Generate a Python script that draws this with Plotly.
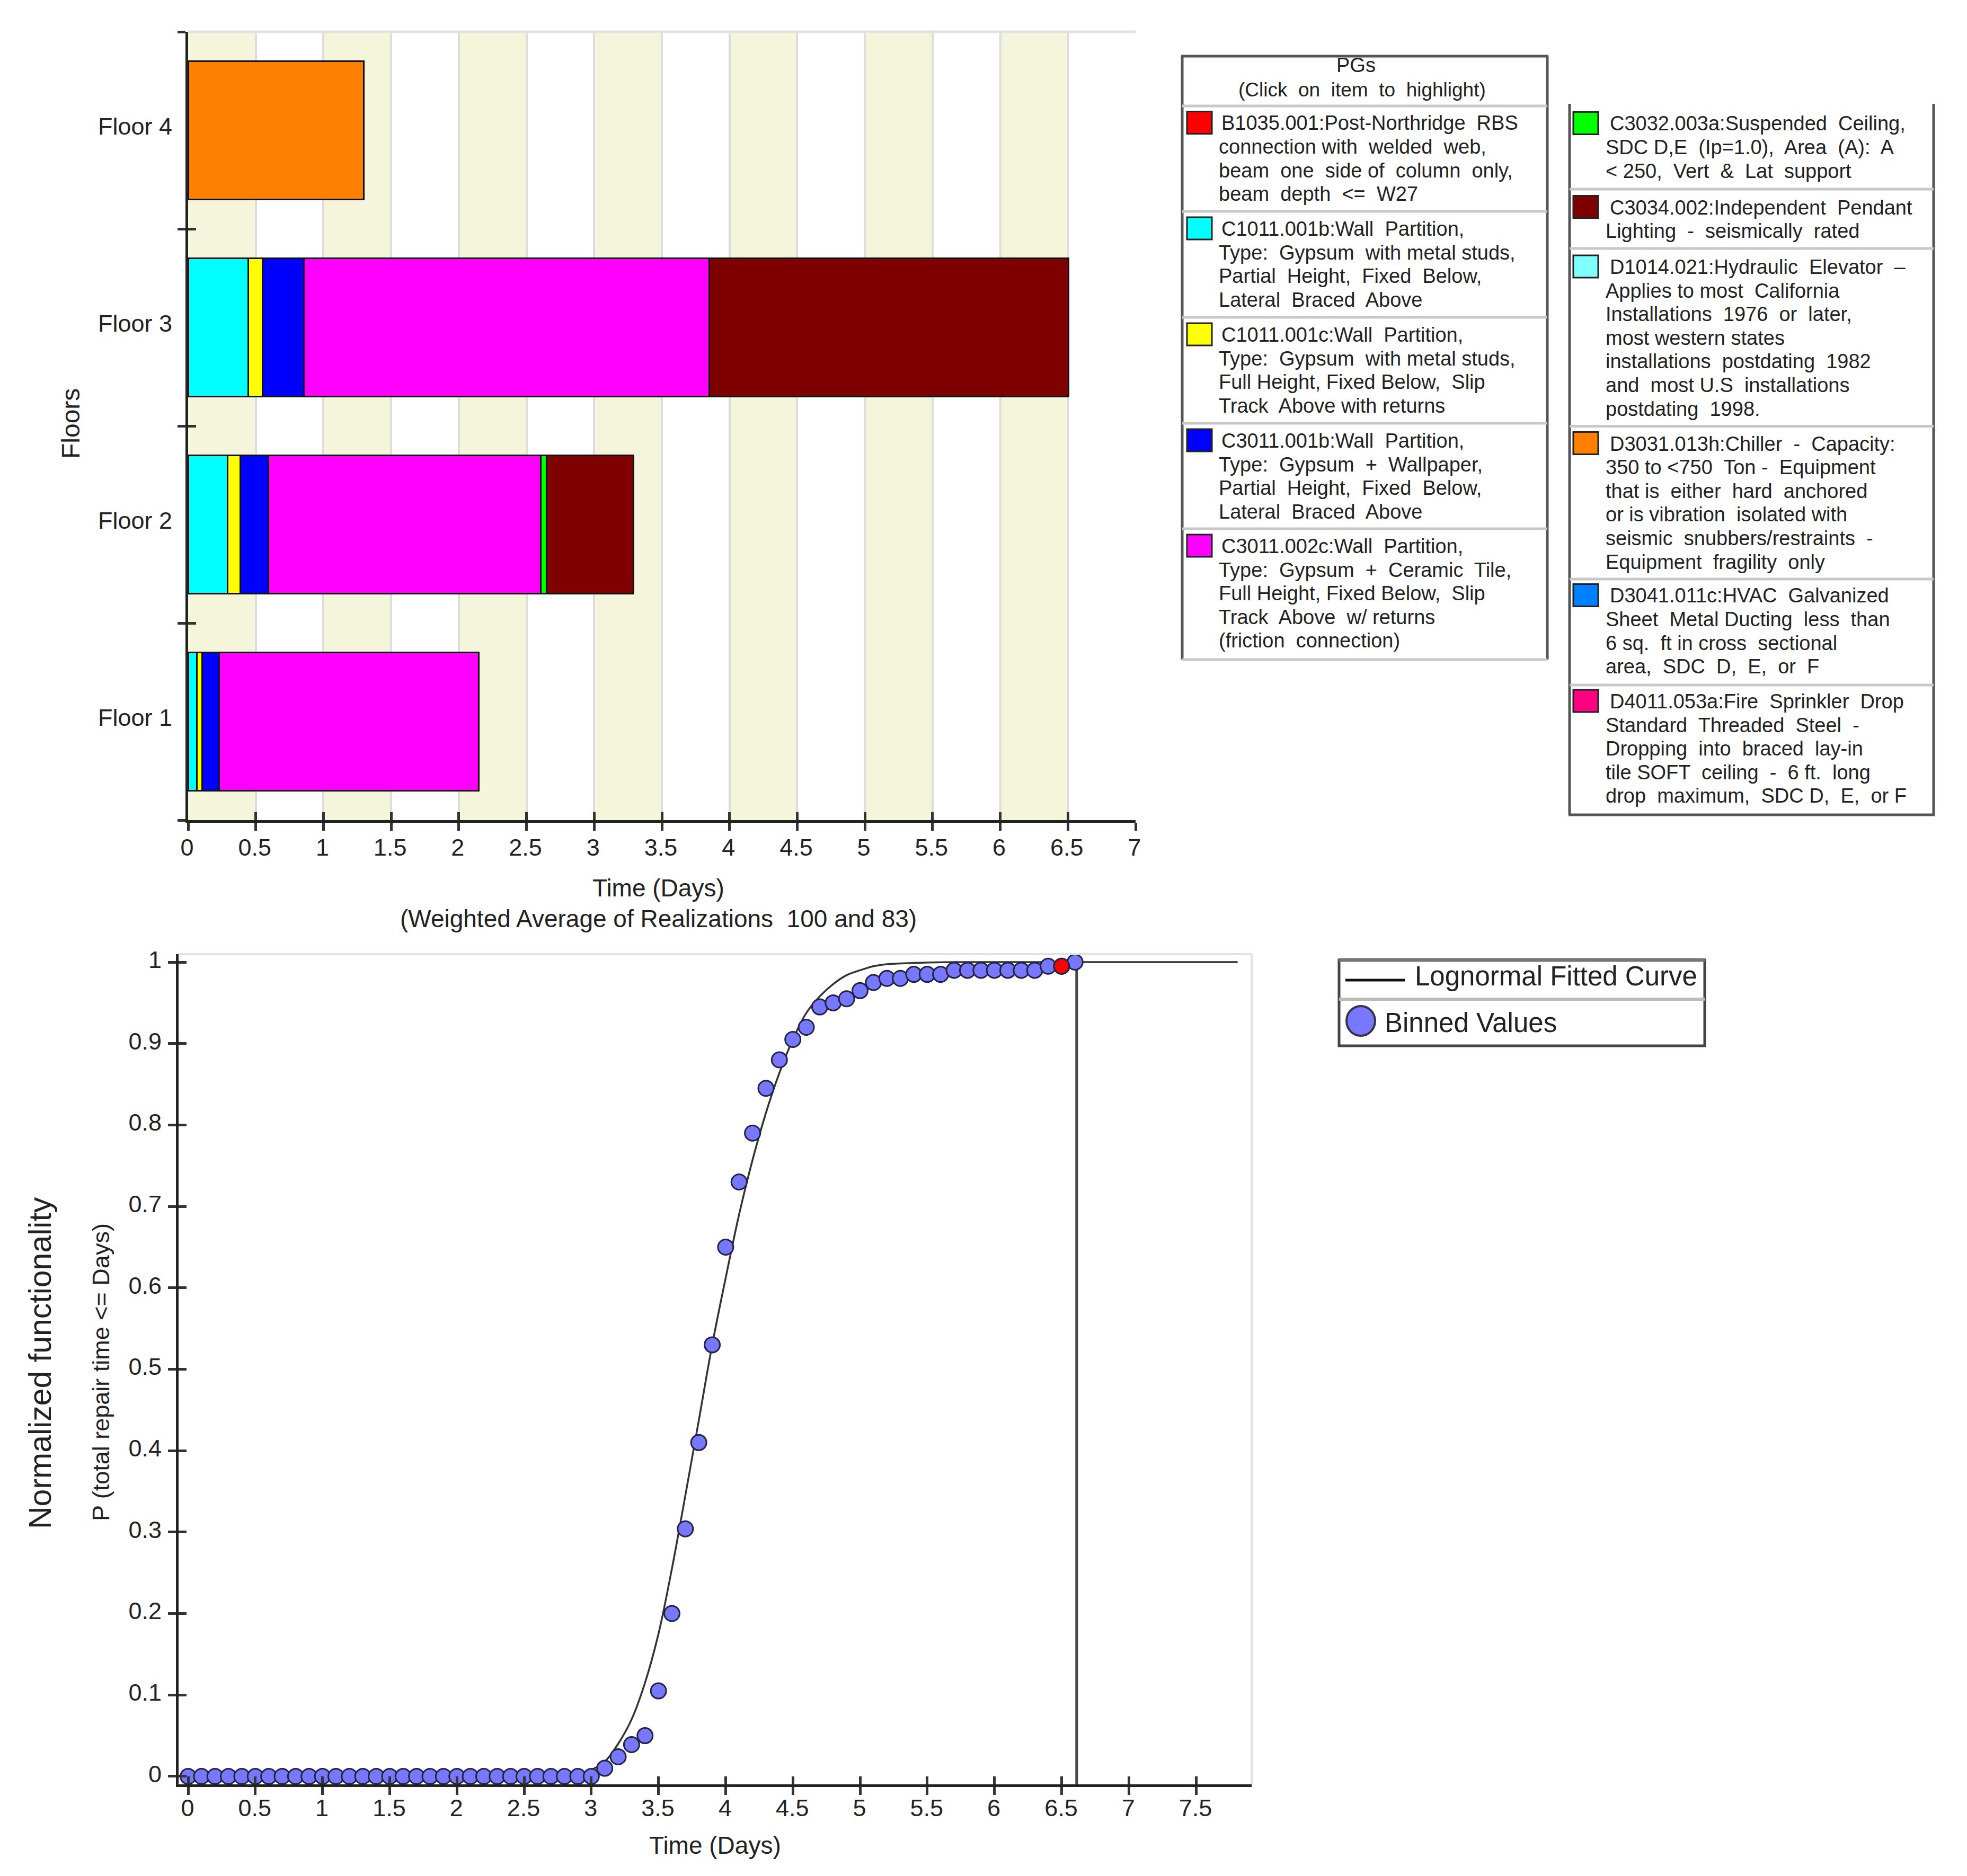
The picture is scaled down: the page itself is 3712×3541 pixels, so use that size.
import plotly.graph_objects as go

W = 3712
H = 3541

# top chart data (days per performance group)
floors = ["Floor 1", "Floor 2", "Floor 3", "Floor 4"]
stack_names = ["C1011.001b", "C1011.001c", "C3011.001b", "C3011.002c", "C3032.003a", "C3034.002", "D3031.013h"]
stack_colors = ["#00FFFF", "#FFFF00", "#0000FF", "#FF00FF", "#00FF00", "#7F0000", "#FF8000"]
c1011b = [0.066, 0.29, 0.445, None]
c1011c = [0.038, 0.095, 0.105, None]
c3011b = [0.126, 0.208, 0.307, None]
c3011c = [1.918, 2.011, 2.993, None]
c3032 = [None, 0.044, None, None]
c3034 = [None, 0.642, 2.655, None]
d3031 = [None, None, None, 1.297]
stack_values = [c1011b, c1011c, c3011b, c3011c, c3032, c3034, d3031]
top_ticks = [0, 0.5, 1, 1.5, 2, 2.5, 3, 3.5, 4, 4.5, 5, 5.5, 6, 6.5, 7]
stripe_starts = [0, 1, 2, 3, 4, 5, 6]

# bottom chart data
bin_times = [0, 0.1, 0.2, 0.3, 0.4, 0.5, 0.6, 0.7, 0.8, 0.9, 1, 1.1, 1.2, 1.3, 1.4, 1.5, 1.6, 1.7, 1.8, 1.9, 2,
             2.1, 2.2, 2.3, 2.4, 2.5, 2.6, 2.7, 2.8, 2.9, 3, 3.1, 3.2, 3.3, 3.4, 3.5, 3.6, 3.7, 3.8, 3.9, 4,
             4.1, 4.2, 4.3, 4.4, 4.5, 4.6, 4.7, 4.8, 4.9, 5, 5.1, 5.2, 5.3, 5.4, 5.5, 5.6, 5.7, 5.8, 5.9, 6,
             6.1, 6.2, 6.3, 6.4, 6.5, 6.6]
bin_values = [0, 0, 0, 0, 0, 0, 0, 0, 0, 0, 0, 0, 0, 0, 0, 0, 0, 0, 0, 0, 0,
              0, 0, 0, 0, 0, 0, 0, 0, 0, 0, 0.01, 0.024, 0.039, 0.05, 0.105, 0.2, 0.304, 0.41, 0.53, 0.65,
              0.73, 0.79, 0.845, 0.88, 0.905, 0.92, 0.945, 0.95, 0.955, 0.965, 0.975, 0.98, 0.98, 0.985, 0.985,
              0.985, 0.99, 0.99, 0.99, 0.99, 0.99, 0.99, 0.99, 0.995, 0.995, 1]
highlight_time = [6.5]
highlight_value = [0.995]
curve_x = [2.8, 2.9, 3, 3.1, 3.2, 3.3, 3.4, 3.5, 3.6, 3.7, 3.8, 3.9, 4, 4.1, 4.2, 4.3, 4.4, 4.5, 4.6, 4.7, 4.8,
           4.9, 5, 5.1, 5.2, 5.4, 5.7, 6, 7, 7.81]
curve_y = [0, 0.002, 0.008, 0.018, 0.04, 0.07, 0.115, 0.175, 0.255, 0.345, 0.437, 0.53, 0.612, 0.69, 0.757,
           0.815, 0.864, 0.905, 0.9375, 0.958, 0.973, 0.984, 0.99, 0.995, 0.9975, 0.999, 1, 1, 1, 1]
vline_x = [6.612, 6.612]
vline_y = [-0.0098, 1]
bottom_xticks = [0, 0.5, 1, 1.5, 2, 2.5, 3, 3.5, 4, 4.5, 5, 5.5, 6, 6.5, 7, 7.5]
bottom_yticks = [0, 0.1, 0.2, 0.3, 0.4, 0.5, 0.6, 0.7, 0.8, 0.9, 1]

# legend texts
left_colors = ["#FF0000", "#00FFFF", "#FFFF00", "#0000FF", "#FF00FF"]
left_items = [
    ["B1035.001:Post-Northridge  RBS", "connection with  welded  web,", "beam  one  side of  column  only,", "beam  depth  <=  W27"],
    ["C1011.001b:Wall  Partition,", "Type:  Gypsum  with metal studs,", "Partial  Height,  Fixed  Below,", "Lateral  Braced  Above"],
    ["C1011.001c:Wall  Partition,", "Type:  Gypsum  with metal studs,", "Full Height, Fixed Below,  Slip", "Track  Above with returns"],
    ["C3011.001b:Wall  Partition,", "Type:  Gypsum  +  Wallpaper,", "Partial  Height,  Fixed  Below,", "Lateral  Braced  Above"],
    ["C3011.002c:Wall  Partition,", "Type:  Gypsum  +  Ceramic  Tile,", "Full Height, Fixed Below,  Slip", "Track  Above  w/ returns", "(friction  connection)"],
]
right_colors = ["#00FF00", "#7F0000", "#7FFFFF", "#FF8000", "#0080FF", "#FF0080"]
right_items = [
    ["C3032.003a:Suspended  Ceiling,", "SDC D,E  (Ip=1.0),  Area  (A):  A", "< 250,  Vert  &  Lat  support"],
    ["C3034.002:Independent  Pendant", "Lighting  -  seismically  rated"],
    ["D1014.021:Hydraulic  Elevator  \u2013", "Applies to most  California", "Installations  1976  or  later,", "most western states", "installations  postdating  1982", "and  most U.S  installations", "postdating  1998."],
    ["D3031.013h:Chiller  -  Capacity:", "350 to <750  Ton -  Equipment", "that is  either  hard  anchored", "or is vibration  isolated with", "seismic  snubbers/restraints  -", "Equipment  fragility  only"],
    ["D3041.011c:HVAC  Galvanized", "Sheet  Metal Ducting  less  than", "6 sq.  ft in cross  sectional", "area,  SDC  D,  E,  or  F"],
    ["D4011.053a:Fire  Sprinkler  Drop", "Standard  Threaded  Steel  -", "Dropping  into  braced  lay-in", "tile SOFT  ceiling  -  6 ft.  long", "drop  maximum,  SDC D,  E,  or F"],
]
left_rows = [232.5, 432, 632, 832, 1031]
left_dividers = [200, 399, 599, 799, 998, 1245]
right_rows = [233.5, 391.5, 504, 837.5, 1124.4, 1324]
right_dividers = [357, 469, 804.5, 1093, 1293]

FONT = "Liberation Sans"
TEXT = "#222222"


def fx(x):
    return x / W


def fy(y):
    return 1 - y / H


fig = go.Figure()

# stacked bars
for name, color, values in zip(stack_names, stack_colors, stack_values):
    fig.add_trace(go.Bar(y=floors, x=values, name=name, orientation="h", width=0.7,
                         marker=dict(color=color, line=dict(color="#111111", width=3)),
                         xaxis="x", yaxis="y"))

# fitted curve, binned points
fig.add_trace(go.Scatter(x=curve_x, y=curve_y, mode="lines", line=dict(color="#333333", width=3.5, shape="spline"),
                         xaxis="x2", yaxis="y2"))
fig.add_trace(go.Scatter(x=vline_x, y=vline_y, mode="lines", line=dict(color="#444444", width=5),
                         xaxis="x2", yaxis="y2"))
fig.add_trace(go.Scatter(x=bin_times, y=bin_values, mode="markers",
                         marker=dict(size=29, color="#7878FF", line=dict(color="#222244", width=3)),
                         xaxis="x2", yaxis="y2"))
fig.add_trace(go.Scatter(x=highlight_time, y=highlight_value, mode="markers",
                         marker=dict(size=29, color="#FF0000", line=dict(color="#222244", width=3)),
                         xaxis="x2", yaxis="y2"))

# empty traces so the overlay axes with the inner tick halves get drawn
fig.add_trace(go.Scatter(x=[None], y=[None], mode="lines", xaxis="x3", yaxis="y3"))
fig.add_trace(go.Scatter(x=[None], y=[None], mode="lines", xaxis="x4", yaxis="y4"))

tick_font = dict(family=FONT, size=45, color=TEXT)
shapes = []
annotations = []


def rect(x0, y0, x1, y1, **kw):
    shapes.append(dict(type="rect", xref="paper", yref="paper", x0=fx(x0), x1=fx(x1), y0=fy(y0), y1=fy(y1), **kw))


def hline(x0, x1, y, color, width):
    shapes.append(dict(type="line", xref="paper", yref="paper", x0=fx(x0), x1=fx(x1), y0=fy(y), y1=fy(y),
                       line=dict(color=color, width=width)))


def vline(x, y0, y1, color, width):
    shapes.append(dict(type="line", xref="paper", yref="paper", x0=fx(x), x1=fx(x), y0=fy(y0), y1=fy(y1),
                       line=dict(color=color, width=width)))


def label(x, y, text, size, xanchor="left", angle=0):
    annotations.append(dict(xref="paper", yref="paper", x=fx(x), y=fy(y), text=text, showarrow=False,
                            xanchor=xanchor, yanchor="middle", textangle=angle, borderpad=0,
                            font=dict(family=FONT, size=size, color=TEXT)))


# beige bands behind the top chart
for start in stripe_starts:
    shapes.append(dict(type="rect", xref="x", yref="paper", x0=start, x1=start + 0.5, y0=fy(1548), y1=fy(60),
                       fillcolor="#F5F5DC", line_width=0, layer="below"))
hline(355, 2143, 60, "#E2E2E2", 5)

# plot frame of the bottom chart
hline(337, 2362, 1801, "#E2E2E2", 4)
vline(2362, 1801, 3368, "#E2E2E2", 4)

# axis titles
label(1242, 1676, "Time (Days)", 46, "center")
label(1242, 1734, "(Weighted Average of Realizations  100 and 83)", 46, "center")
label(133, 800, "Floors", 48, "center", -90)
label(1349, 3483, "Time (Days)", 46, "center")
label(190, 2590, "P (total repair time <= Days)", 45, "center", -90)
label(76, 2573, "Normalized functionality", 59, "center", -90)

# PG legend, left panel
LINE = 44.6
SW = 38
label(2559, 123, "PGs", SW, "center")
label(2570, 169.5, "(Click  on  item  to  highlight)", 37, "center")
vline(2231, 106, 1245, "#555555", 5)
vline(2920, 106, 1245, "#555555", 5)
hline(2229, 2922, 106, "#555555", 5)
for y in left_dividers:
    hline(2231, 2920, y, "#C8C8C8", 5)
for color, item, row in zip(left_colors, left_items, left_rows):
    rect(2240, row - 22, 2287, row + 20, fillcolor=color, line=dict(color="#222222", width=3))
    for i, text in enumerate(item):
        label(2304 if i == 0 else 2299, row + i * LINE, text, SW)

# PG legend, right panel
vline(2962, 196, 1538, "#555555", 5)
vline(3649, 196, 1538, "#555555", 5)
hline(2960, 3651, 1538, "#555555", 5)
for y in right_dividers:
    hline(2962, 3649, y, "#C8C8C8", 5)
for color, item, row in zip(right_colors, right_items, right_rows):
    rect(2969, row - 22, 3016, row + 20, fillcolor=color, line=dict(color="#222222", width=3))
    for i, text in enumerate(item):
        label(3037 if i == 0 else 3029, row + i * LINE, text, SW)

# curve legend
rect(2527, 1812, 3217, 1974, line=dict(color="#444444", width=5))
hline(2527, 3217, 1812, "#777777", 7)
hline(2527, 3217, 1886, "#BBBBBB", 6)
hline(2539, 2651, 1850, "#111111", 5)
shapes.append(dict(type="circle", xref="paper", yref="paper", x0=fx(2541), x1=fx(2595), y0=fy(1899), y1=fy(1955),
                   fillcolor="#7878FF", line=dict(color="#333344", width=4)))
label(2669, 1842, "Lognormal Fitted Curve", 51)
label(2612, 1930, "Binned Values", 51)

axis_line = dict(showline=True, linecolor="#222222", linewidth=5, zeroline=False, ticks="outside", ticklen=15,
                 tickwidth=5, tickcolor="#333333", tickfont=tick_font, automargin=False)
inner = dict(showline=False, showgrid=False, zeroline=False, ticks="inside", ticklen=15, tickwidth=5,
             tickcolor="#333333", showticklabels=False, automargin=False)

fig.update_layout(
    width=W, height=H, autosize=False, margin=dict(l=0, r=0, t=0, b=0),
    paper_bgcolor="white", plot_bgcolor="white", showlegend=False, barmode="stack",
    font=dict(family=FONT, color=TEXT),
    shapes=shapes, annotations=annotations,
    xaxis=dict(domain=[fx(355), fx(2143)], range=[0, 7], anchor="y", tickvals=top_ticks, showgrid=True,
               gridcolor="#DDDDDD", gridwidth=4, ticklabelstandoff=-7, ticklabelshift=-2, **axis_line),
    yaxis=dict(domain=[fy(1548), fy(60)], range=[-0.5, 3.5], anchor="x", type="category", categoryorder="array",
               categoryarray=floors, tickson="boundaries", showgrid=False, ticklabelstandoff=16, ticklabelshift=-8,
               **axis_line),
    xaxis2=dict(domain=[fx(337), fx(2362)], range=[-0.071, 7.914], anchor="y2", tickvals=bottom_xticks,
                showgrid=False, ticklabelstandoff=-14, ticklabelshift=-1, **axis_line),
    yaxis2=dict(domain=[fy(3368), fy(1801)], range=[-0.0098, 1.0098], anchor="x2", tickvals=bottom_yticks,
                showgrid=False, ticklabelstandoff=3, ticklabelshift=-5, **axis_line),
    xaxis3=dict(domain=[fx(355), fx(2143)], range=[0, 7], anchor="y3", overlaying="x", tickvals=top_ticks, **inner),
    yaxis3=dict(domain=[fy(1548), fy(60)], range=[-0.5, 3.5], anchor="x3", overlaying="y",
                tickvals=[-0.5, 0.5, 1.5, 2.5, 3.5], **inner),
    xaxis4=dict(domain=[fx(337), fx(2362)], range=[-0.071, 7.914], anchor="y4", overlaying="x2",
                tickvals=bottom_xticks, **inner),
    yaxis4=dict(domain=[fy(3368), fy(1801)], range=[-0.0098, 1.0098], anchor="x4", overlaying="y2",
                tickvals=bottom_yticks, **inner),
)

fig.write_html("out.html", config=dict(displayModeBar=False), post_script="document.body.style.margin='0';")
